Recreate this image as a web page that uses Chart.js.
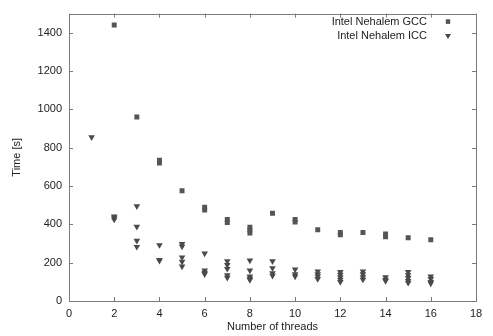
<!DOCTYPE html>
<html>
<head>
<meta charset="utf-8">
<script src="https://cdn.jsdelivr.net/npm/chart.js@4/dist/chart.umd.min.js"></script>
<style>
  html, body { margin: 0; padding: 0; background: #fff; }
  #wrap { width: 493px; height: 336px; }
</style>
</head>
<body>
<div id="wrap"><canvas id="chart" width="493" height="336"></canvas></div>
<script>
  // thread counts and run times
  const gccThreads = [2, 3, 4, 4, 5, 6, 6, 7, 7, 8, 8, 8, 9, 10, 10, 11, 12, 12, 13, 14, 14, 15, 16];
  const gccTimes = [1441, 960, 720, 735, 575, 475, 490, 410, 425, 355, 370, 385, 458, 412, 425, 372, 345, 358, 358, 335, 350, 330, 320];

  const iccThreads = [
    1,
    2, 2, 2,
    3, 3, 3, 3,
    4, 4, 4,
    5, 5, 5, 5, 5,
    6, 6, 6, 6,
    7, 7, 7, 7, 7,
    8, 8, 8, 8, 8,
    9, 9, 9, 9,
    10, 10, 10,
    11, 11, 11, 11,
    12, 12, 12, 12, 12,
    13, 13, 13, 13,
    14, 14, 14,
    15, 15, 15, 15, 15,
    16, 16, 16, 16
  ];
  const iccTimes = [
    855,
    425, 435, 442,
    495, 388, 315, 283,
    292, 210, 215,
    298, 285, 228, 205, 180,
    248, 160, 148, 140,
    208, 188, 168, 135, 122,
    212, 160, 128, 118, 110,
    208, 172, 145, 132,
    165, 140, 128,
    155, 140, 128, 115,
    152, 138, 125, 112, 100,
    155, 140, 125, 112,
    125, 112, 105,
    152, 135, 120, 105, 95,
    128, 115, 100, 92
  ];

  const seriesLabels = ["Intel Nehalem GCC", "Intel Nehalem ICC"];
  const xTitle = "Number of threads";
  const yTitle = "Time [s]";

  const fontFamily = "'Liberation Sans', Arial, Helvetica, sans-serif";
  const textColor = "#222";
  const frameColor = "#7a7a7a";

  function toPoints(xs, ys) {
    return xs.map((x, i) => ({ x: x, y: ys[i] }));
  }

  // gnuplot style box with ticks pointing inwards on all four sides
  const framePlugin = {
    id: "frame",
    beforeDatasetsDraw(chart) {
      const ctx = chart.ctx;
      const area = chart.chartArea;
      const xs = chart.scales.x;
      const ys = chart.scales.y;
      const len = 4;
      ctx.save();
      ctx.strokeStyle = frameColor;
      ctx.lineWidth = 1;
      ctx.strokeRect(Math.round(area.left) + 0.5, Math.round(area.top) + 0.5,
        Math.round(area.right - area.left), Math.round(area.bottom - area.top));
      ctx.beginPath();
      xs.ticks.forEach((t) => {
        const px = Math.round(xs.getPixelForValue(t.value)) + 0.5;
        ctx.moveTo(px, area.bottom);
        ctx.lineTo(px, area.bottom - len);
        ctx.moveTo(px, area.top);
        ctx.lineTo(px, area.top + len);
      });
      ys.ticks.forEach((t) => {
        const py = Math.round(ys.getPixelForValue(t.value)) + 0.5;
        ctx.moveTo(area.left, py);
        ctx.lineTo(area.left + len, py);
        ctx.moveTo(area.right, py);
        ctx.lineTo(area.right - len, py);
      });
      ctx.stroke();
      ctx.restore();
    },
    afterDraw(chart) {
      const ctx = chart.ctx;
      const area = chart.chartArea;
      ctx.save();
      ctx.font = "11px " + fontFamily;
      ctx.textAlign = "right";
      ctx.textBaseline = "middle";
      chart.data.datasets.forEach((ds, i) => {
        const y = area.top + 8 + i * 14;
        ctx.fillStyle = textColor;
        ctx.fillText(ds.label, area.right - 49, y);
        ctx.fillStyle = ds.backgroundColor;
        Chart.helpers.drawPoint(ctx, {
          pointStyle: ds.pointStyle,
          radius: ds.pointRadius * 0.85,
          rotation: ds.pointRotation || 0,
          borderWidth: 0
        }, area.right - 28, y);
        ctx.fill();
      });
      ctx.restore();
    }
  };

  new Chart(document.getElementById("chart"), {
    type: "scatter",
    data: {
      datasets: [
        {
          label: seriesLabels[0],
          data: toPoints(gccThreads, gccTimes),
          pointStyle: "rect",
          pointRadius: 3.5,
          backgroundColor: "#555",
          borderWidth: 0
        },
        {
          label: seriesLabels[1],
          data: toPoints(iccThreads, iccTimes),
          pointStyle: "triangle",
          pointRotation: 180,
          pointRadius: 3.8,
          backgroundColor: "#4a4a4a",
          borderWidth: 0
        }
      ]
    },
    options: {
      responsive: false,
      animation: false,
      layout: { padding: { top: 5, right: 17, left: 0, bottom: 0 } },
      plugins: {
        legend: { display: false },
        tooltip: { enabled: false }
      },
      scales: {
        x: {
          type: "linear",
          min: 0,
          max: 18,
          afterFit(scale) { scale.height = 35; },
          grid: { display: false, drawTicks: false },
          border: { display: false },
          ticks: {
            stepSize: 2,
            padding: 6,
            color: textColor,
            font: { family: fontFamily, size: 11 },
            maxRotation: 0,
            callback: (v) => String(v)
          },
          title: {
            display: true,
            text: xTitle,
            color: textColor,
            font: { family: fontFamily, size: 11 },
            padding: { top: 0, bottom: 2 }
          }
        },
        y: {
          type: "linear",
          min: 0,
          max: 1500,
          afterFit(scale) { scale.width = 69; },
          grid: { display: false, drawTicks: false },
          border: { display: false },
          ticks: {
            stepSize: 200,
            includeBounds: false,
            padding: 7,
            color: textColor,
            font: { family: fontFamily, size: 11 },
            callback: (v) => String(v)
          },
          title: {
            display: true,
            text: yTitle,
            color: textColor,
            font: { family: fontFamily, size: 11 },
            padding: { top: 10, bottom: 0 }
          }
        }
      }
    },
    plugins: [framePlugin]
  });
</script>
</body>
</html>
